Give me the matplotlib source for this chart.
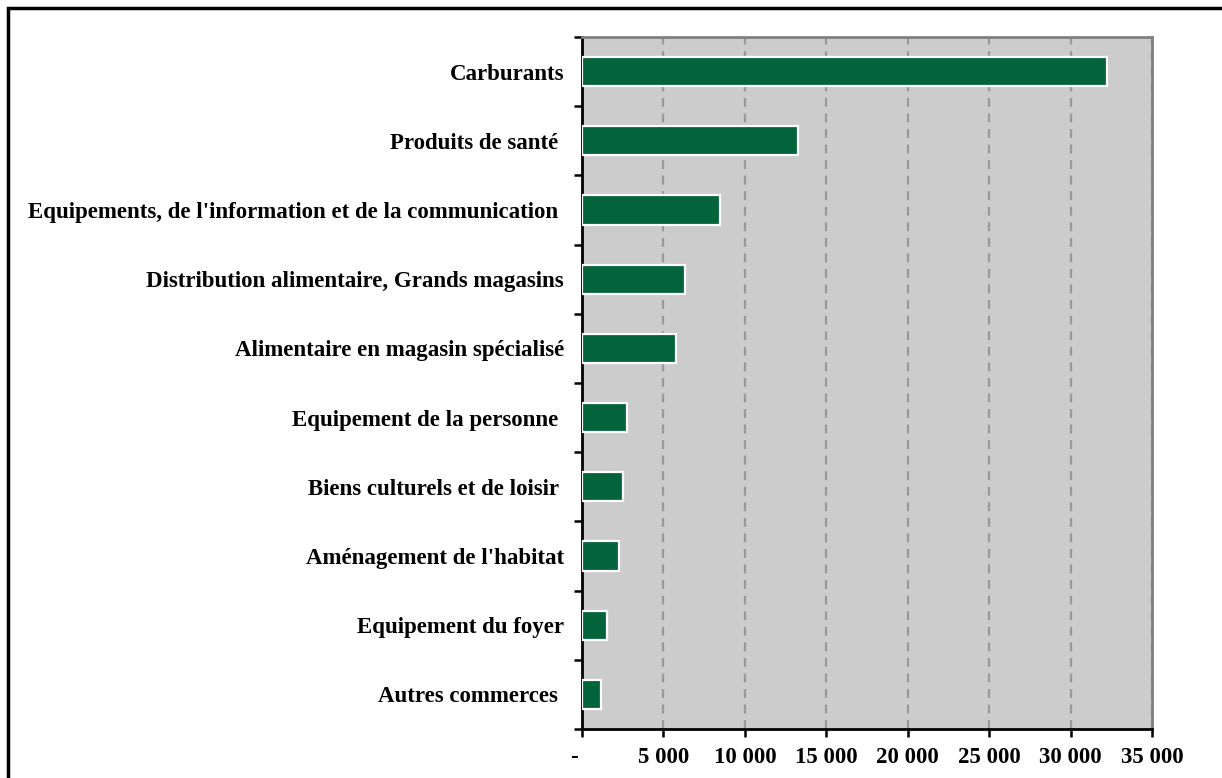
import matplotlib.pyplot as plt
from matplotlib.patches import Rectangle
from matplotlib.ticker import FuncFormatter
from matplotlib.transforms import ScaledTranslation

# Catégories (du haut vers le bas) et valeurs
categories = [
    "Carburants",
    "Produits de santé ",
    "Equipements, de l'information et de la communication ",
    "Distribution alimentaire, Grands magasins",
    "Alimentaire en magasin spécialisé",
    "Equipement de la personne ",
    "Biens culturels et de loisir ",
    "Aménagement de l'habitat",
    "Equipement du foyer",
    "Autres commerces ",
]
valeurs = [32250, 13250, 8450, 6300, 5750, 2750, 2500, 2250, 1550, 1150]
x_ticks = [0, 5000, 10000, 15000, 20000, 25000, 30000, 35000]

plt.rcParams['font.family'] = ['Liberation Serif', 'DejaVu Serif']
plt.rcParams['font.weight'] = 'bold'

fig = plt.figure(figsize=(12.22, 7.78), dpi=100)
ax = fig.add_axes([582 / 1222, 1 - 729 / 778, 570 / 1222, 692 / 778])

# cadre extérieur (bords droit et bas hors image)
fig.patches.append(Rectangle((8 / 1222, -0.1), 1.2, 1 - 8 / 778 + 0.1,
                             transform=fig.transFigure, fill=False,
                             edgecolor='black', linewidth=2.5))

n = len(categories)
pos = list(range(n))[::-1]
ax.set_facecolor('#cccccc')
ax.barh(pos, valeurs, height=0.42, color='#03633a', edgecolor='white', linewidth=1.6, zorder=3)

ax.set_xlim(0, 35000)
ax.set_ylim(-0.5, n - 0.5)
ax.set_xticks(x_ticks)
ax.xaxis.set_major_formatter(FuncFormatter(
    lambda v, p: '-' if v == 0 else f"{int(v):,}".replace(',', ' ')))
ax.grid(axis='x', color='#999999', linestyle=(0, (4, 3)), linewidth=1.6, zorder=1)

ax.set_yticks([i - 0.5 for i in range(n + 1)], minor=False)
ax.set_yticklabels([])
ax.set_yticks(pos, minor=True)
ax.set_yticklabels(categories, minor=True, fontsize=16.5, fontweight='bold')
ax.tick_params(axis='y', which='minor', length=0, pad=13)
ax.tick_params(axis='y', which='major', length=6, width=1.8, direction='out')
ax.tick_params(axis='x', length=6, width=1.8, direction='out', labelsize=16.5, pad=7)
for lab in ax.get_xticklabels():
    lab.set_fontweight('bold')

# le "-" du zéro est décalé à gauche comme dans Excel
xl0 = ax.get_xticklabels()[0]
xl0.set_transform(xl0.get_transform() + ScaledTranslation(-8 / 100, 0, fig.dpi_scale_trans))

ax.spines['left'].set_linewidth(2)
ax.spines['bottom'].set_linewidth(2)
ax.spines['right'].set_color('#808080')
ax.spines['top'].set_color('#808080')
ax.spines['right'].set_linewidth(2)
ax.spines['top'].set_linewidth(2)

fig.savefig('out.png', dpi=100)
